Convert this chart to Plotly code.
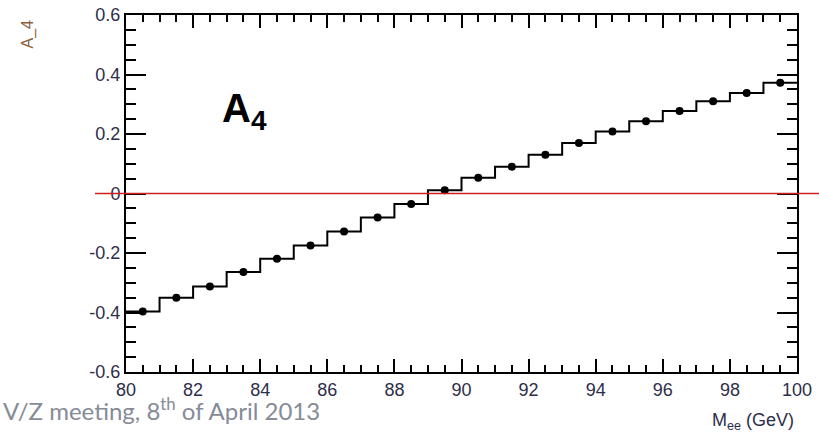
import plotly.graph_objects as go

# Mass bins (GeV) and fitted A_4 per bin
bin_edges = [80, 81, 82, 83, 84, 85, 86, 87, 88, 89, 90,
             91, 92, 93, 94, 95, 96, 97, 98, 99, 100]
a4_values = [-0.397, -0.350, -0.313, -0.264, -0.219, -0.175, -0.128, -0.081,
             -0.035, 0.011, 0.053, 0.090, 0.130, 0.170, 0.208, 0.243,
             0.277, 0.310, 0.338, 0.372]
y_ticks = [-0.6, -0.4, -0.2, 0, 0.2, 0.4, 0.6]
y_tick_text = ["-0.6", "-0.4", "-0.2", "0", "0.2", "0.4", "0.6"]
x_ticks = [80, 82, 84, 86, 88, 90, 92, 94, 96, 98, 100]

bin_centers = [(lo + hi) / 2 for lo, hi in zip(bin_edges[:-1], bin_edges[1:])]
step_x = bin_edges
step_y = a4_values + [a4_values[-1]]

W, H = 819, 435
ML, MR, MT, MB = 126, 22, 15, 63
plot_w = W - ML - MR
plot_h = H - MT - MB


def px(x):
    return (x - ML) / plot_w


def py(y):
    return 1 - (y - MT) / plot_h


fig = go.Figure()
fig.add_trace(go.Scatter(
    x=step_x, y=step_y, mode="lines", line_shape="hv",
    line=dict(color="black", width=2), hoverinfo="skip",
))
fig.add_trace(go.Scatter(
    x=bin_centers, y=a4_values, mode="markers",
    marker=dict(color="black", size=8),
))

tick_font = dict(family="Liberation Sans, Arial, sans-serif", size=18, color="#2e2e4a")

fig.update_xaxes(
    range=[80, 100], tickvals=x_ticks, ticks="inside", ticklen=13, tickwidth=2,
    tickcolor="black", showline=True, linecolor="black", linewidth=2,
    mirror="allticks", showgrid=False, zeroline=False, tickfont=tick_font,
    automargin=False,
    minor=dict(dtick=0.5, ticks="inside", ticklen=7, tickwidth=2, tickcolor="black"),
)
fig.update_yaxes(
    range=[-0.6, 0.6], tickvals=y_ticks, ticktext=y_tick_text, ticks="inside",
    ticklen=20, tickwidth=2, tickcolor="black", showline=True, linecolor="black",
    linewidth=2, mirror="allticks", showgrid=False, zeroline=False,
    tickfont=tick_font, automargin=False,
    minor=dict(dtick=0.05, tick0=0, ticks="inside", ticklen=10, tickwidth=2,
               tickcolor="black"),
)

# zero reference line running past the frame
fig.add_shape(type="line", xref="paper", yref="y", x0=px(95), x1=px(830), y0=0, y1=0,
              line=dict(color="#cc2222", width=1.5))

fig.add_annotation(x=px(220), y=py(84), xref="paper", yref="paper",
                   text="<b>A<sub>4</sub></b>", showarrow=False,
                   font=dict(family="Liberation Sans, Arial", size=40, color="black"))
fig.add_annotation(x=px(17), y=py(18), xref="paper", yref="paper",
                   text="A_4", textangle=-90, showarrow=False,
                   font=dict(family="Liberation Sans, Arial", size=16, color="#8a6040"))
fig.add_annotation(x=px(796), y=py(435), xref="paper", yref="paper",
                   xanchor="right", yanchor="bottom", text="M<sub>ee</sub> (GeV)",
                   showarrow=False,
                   font=dict(family="Liberation Sans, Arial", size=18, color="#2e2e4a"))
fig.add_annotation(x=px(1), y=py(427), xref="paper", yref="paper",
                   xanchor="left", text="V/Z meeting, 8<sup>th</sup> of April 2013",
                   showarrow=False,
                   font=dict(family="Lato, Open Sans, sans-serif", size=24, color="#858b97"))

fig.update_layout(
    width=W, height=H, margin=dict(l=ML, r=MR, t=MT, b=MB, autoexpand=False),
    paper_bgcolor="white", plot_bgcolor="white", showlegend=False,
)

fig.write_html("out.html")
